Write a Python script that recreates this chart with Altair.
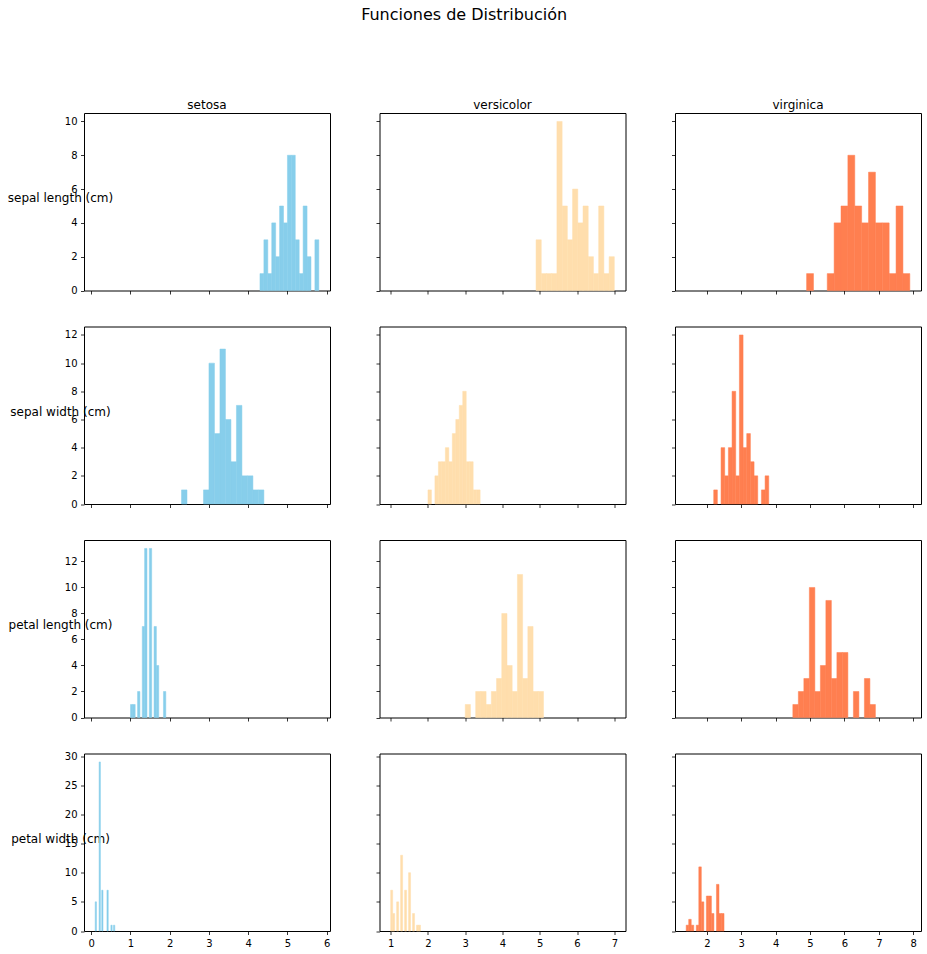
import altair as alt
import pandas as pd

species = ["setosa", "versicolor", "virginica"]
features = ["sepal length (cm)", "sepal width (cm)", "petal length (cm)", "petal width (cm)"]
colors = ["#87CEEB", "#FFDEAD", "#FF7F50"]

# histogram range (min, max) per feature, per species; 15 bins each
bin_lo = {
    "sepal length (cm)": [4.3, 4.9, 4.9],
    "sepal width (cm)": [2.3, 2.0, 2.2],
    "petal length (cm)": [1.0, 3.0, 4.5],
    "petal width (cm)": [0.1, 1.0, 1.4],
}
bin_hi = {
    "sepal length (cm)": [5.8, 7.0, 7.9],
    "sepal width (cm)": [4.4, 3.4, 3.8],
    "petal length (cm)": [1.9, 5.1, 6.9],
    "petal width (cm)": [0.6, 1.8, 2.5],
}

sl_setosa = [1, 3, 1, 4, 2, 5, 4, 8, 8, 3, 1, 5, 2, 0, 3]
sl_versicolor = [3, 1, 1, 1, 10, 5, 3, 6, 4, 5, 2, 1, 5, 1, 2]
sl_virginica = [1, 0, 0, 1, 4, 5, 8, 5, 4, 7, 4, 4, 1, 5, 1]
sw_setosa = [1, 0, 0, 0, 1, 10, 5, 11, 6, 3, 7, 2, 2, 1, 1]
sw_versicolor = [1, 0, 2, 3, 3, 4, 3, 5, 6, 7, 8, 3, 3, 1, 1]
sw_virginica = [1, 0, 4, 2, 4, 8, 2, 12, 4, 5, 3, 2, 0, 1, 2]
pl_setosa = [1, 1, 0, 2, 0, 7, 13, 0, 13, 0, 7, 4, 0, 0, 2]
pl_versicolor = [1, 0, 2, 2, 1, 2, 3, 8, 4, 2, 11, 3, 7, 2, 2]
pl_virginica = [1, 2, 3, 10, 2, 4, 9, 3, 5, 5, 0, 2, 0, 3, 1]
pw_setosa = [5, 0, 0, 29, 0, 7, 0, 0, 0, 7, 0, 0, 1, 0, 1]
pw_versicolor = [7, 3, 0, 5, 0, 13, 0, 7, 0, 10, 0, 3, 0, 1, 1]
pw_virginica = [1, 2, 1, 0, 1, 11, 5, 0, 6, 6, 3, 0, 8, 3, 3]

counts = {
    "sepal length (cm)": [sl_setosa, sl_versicolor, sl_virginica],
    "sepal width (cm)": [sw_setosa, sw_versicolor, sw_virginica],
    "petal length (cm)": [pl_setosa, pl_versicolor, pl_virginica],
    "petal width (cm)": [pw_setosa, pw_versicolor, pw_virginica],
}

# shared axes: x per column, y per row
x_domains = [[-0.185, 6.085], [0.7, 7.3], [1.075, 8.225]]
x_ticks = [[0, 1, 2, 3, 4, 5, 6], [1, 2, 3, 4, 5, 6, 7], [2, 3, 4, 5, 6, 7, 8]]
y_domains = [[0, 10.5], [0, 12.6], [0, 13.65], [0, 30.45]]
y_ticks = [[0, 2, 4, 6, 8, 10], [0, 2, 4, 6, 8, 10, 12], [0, 2, 4, 6, 8, 10, 12], [0, 5, 10, 15, 20, 25, 30]]

FONT = "DejaVu Sans"
W, H = 246, 177.5


def panel(fi, si):
    feat = features[fi]
    lo, hi = bin_lo[feat][si], bin_hi[feat][si]
    cs = counts[feat][si]
    n = len(cs)
    step = (hi - lo) / n
    df = pd.DataFrame({
        "x0": [lo + k * step for k in range(n)],
        "x1": [lo + (k + 1) * step for k in range(n)],
        "count": cs,
    })
    df = df[df["count"] > 0]
    bottom = fi == len(features) - 1
    left = si == 0
    xaxis = alt.Axis(values=x_ticks[si], labels=bottom, ticks=True, tickSize=3.5, tickWidth=0.8,
                     tickColor="black", domain=False, grid=False, title=None, labelFontSize=10,
                     labelColor="black", labelFont=FONT, labelPadding=3.5, format="d")
    if left:
        yaxis = alt.Axis(values=y_ticks[fi], labels=True, ticks=True, tickSize=3.5, tickWidth=0.8,
                         tickColor="black", domain=False, grid=False, title=feat, titleAngle=0,
                         titleX=-24, titleY=H / 2, titleAlign="center", titleBaseline="alphabetic",
                         titleFont=FONT, titleFontSize=12, titleFontWeight="normal", titleColor="black",
                         labelFontSize=10, labelColor="black", labelFont=FONT, labelPadding=3.5, format="d")
    else:
        yaxis = alt.Axis(values=y_ticks[fi], labels=False, ticks=True, tickSize=3.5, tickWidth=0.8,
                         tickColor="black", domain=False, grid=False, title=None)
    props = dict(width=W, height=H)
    if fi == 0:
        props["title"] = alt.TitleParams(species[si], fontSize=12, font=FONT, fontWeight="normal",
                                         color="black", anchor="middle", offset=-8, baseline="alphabetic",
                                         frame="group")
    ch = alt.Chart(df).mark_rect(color=colors[si], stroke=colors[si], strokeWidth=0.5).encode(
        x=alt.X("x0:Q", scale=alt.Scale(domain=x_domains[si], nice=False, zero=False), axis=xaxis),
        x2="x1:Q",
        y=alt.Y("count:Q", scale=alt.Scale(domain=y_domains[fi], nice=False, zero=True), axis=yaxis),
        y2=alt.datum(0),
    ).properties(**props)
    return ch


panels = [panel(fi, si) for fi in range(len(features)) for si in range(3)]

chart = alt.concat(*panels, columns=3, spacing={"row": 35.5, "column": 49.5}, bounds="flush").properties(
    title=alt.TitleParams("Funciones de Distribución", fontSize=16, font=FONT, fontWeight="normal",
                          color="black", anchor="middle", offset=76),
    padding={"left": 6, "top": 6, "right": 2, "bottom": 2},
).configure_view(stroke="black", strokeWidth=1)

chart.save("out.html", embed_options={"renderer": "svg", "actions": False})
